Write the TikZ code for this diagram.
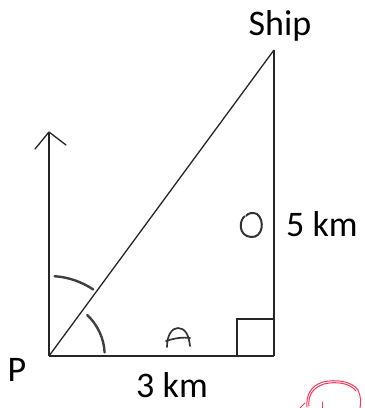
\documentclass[tikz,border=0pt]{standalone}
\usepackage{fontspec}
\setmainfont{Carlito}
\begin{document}
\begin{tikzpicture}[x=1pt,y=-1pt,
  line/.style={draw=black!85,line width=1.3pt},
  hand/.style={draw=black!75,line width=2.4pt,line cap=round},
  lbl/.style={font=\fontsize{36}{40}\selectfont,inner sep=0pt,anchor=base},
  redmark/.style={draw=red!80!magenta!80!white,line width=1pt,line cap=round}]
\useasboundingbox (0,0) rectangle (365,408);
\fill[white] (0,0) rectangle (365,408);
\coordinate (P) at (49,356);
\coordinate (S) at (274,50);
\coordinate (R) at (274,356);
\coordinate (N) at (49,132);
\draw[line] (P) -- (R);
\draw[line] (R) -- (S);
\draw[line] (P) -- (S);
\draw[line] (P) -- (N);
\draw[line,line cap=round,line join=round] (35,149) -- (N) -- (66,145);
\draw[line] (237,356) -- (237,319) -- (R |- 0,319);
% angle arcs
\draw[hand] (P) ++(-86:80) arc[start angle=-86,end angle=-56,radius=79];
\draw[hand] (P) ++(-47:56) arc[start angle=-47,end angle=-3,radius=55];
% handwritten O
\draw[draw=black!80,line width=2pt] (245,216) .. controls (239,220) and (238,236) .. (251,237)
  .. controls (263,238) and (265,220) .. (257,214) .. controls (253,212) and (248,213) .. (246,216);
% handwritten A
\draw[draw=black!80,line width=1.7pt,line cap=round,line join=round]
  (167,347) .. controls (167,335) and (172,328) .. (178,328) .. controls (185,328) and (189,335) .. (190,346);
\draw[draw=black!80,line width=1.7pt,line cap=round] (166,341) .. controls (175,338) and (183,337) .. (190,338);
% labels
\node[lbl] (ship) at (280,35) {Ship};
\node[lbl,anchor=base west] (five) at (286,236) {5 km};
\node[lbl] (three) at (172,397) {3 km};
\node[lbl] (p) at (17,381) {P};
% red mark
\draw[redmark] (307,407) .. controls (306,396) and (310,386) .. (323,382)
  .. controls (335,379) and (352,381) .. (358,390) .. controls (361,396) and (361,403) .. (360,408);
\draw[redmark] (309,406) .. controls (308,396) and (312,388) .. (324,384)
  .. controls (336,381) and (350,383) .. (356,391);
\draw[redmark] (300,408) -- (305,403);
\draw[redmark] (322,402) -- (322,408);
\end{tikzpicture}
\end{document}
